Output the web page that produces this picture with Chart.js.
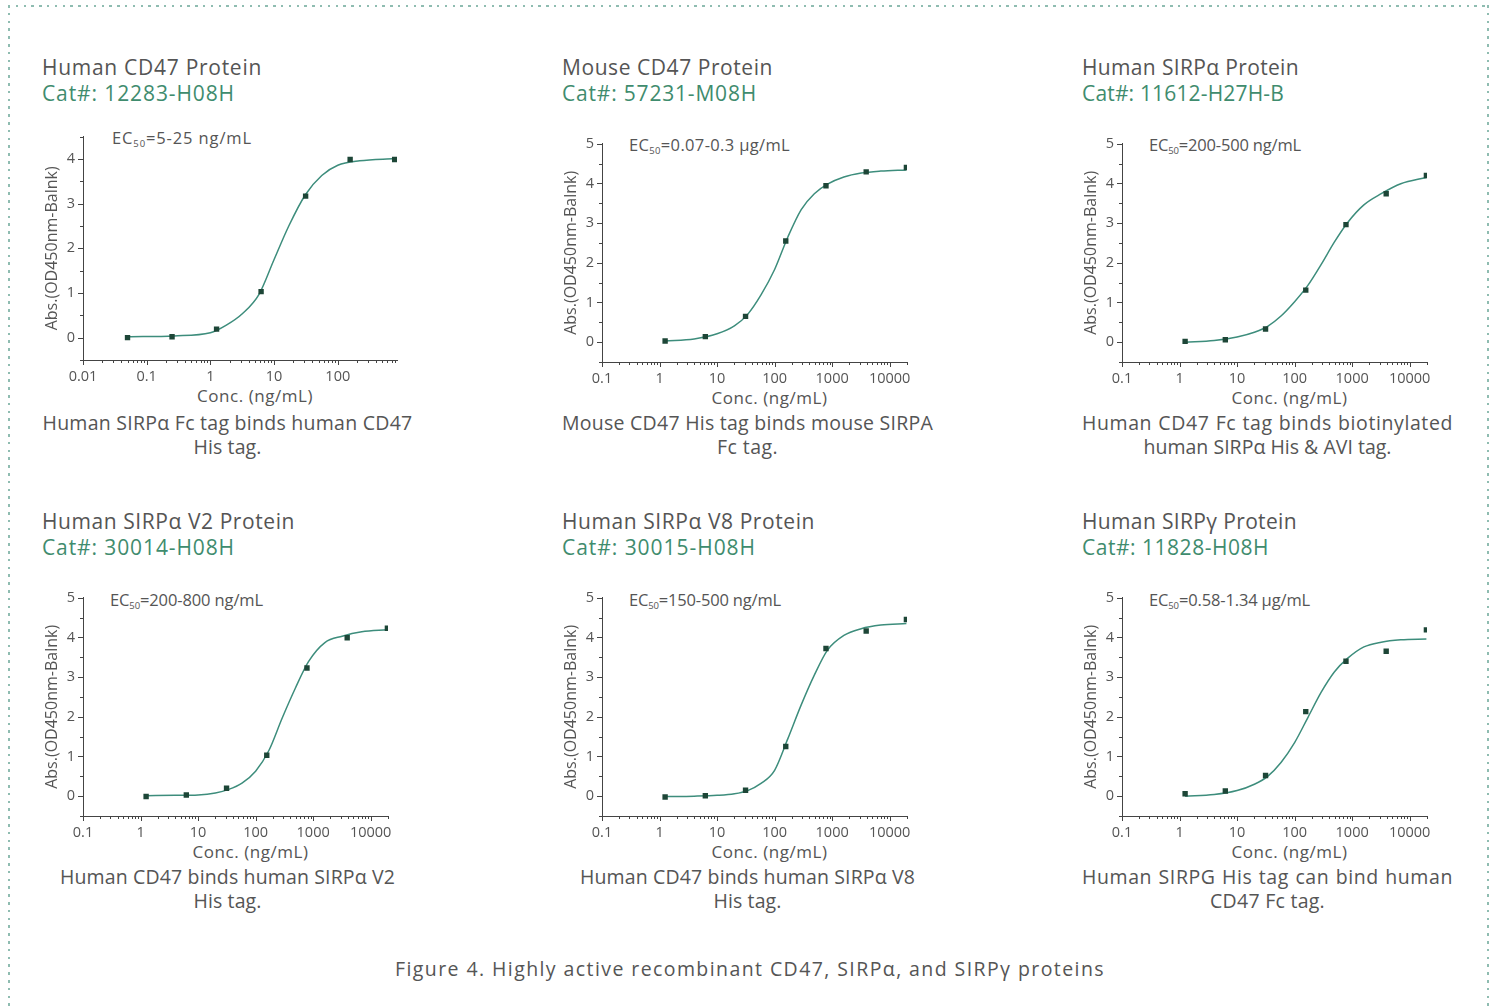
<!DOCTYPE html>
<html>
<head>
<meta charset="utf-8">
<script src="https://cdn.jsdelivr.net/npm/chart.js@4.4.0/dist/chart.umd.min.js"></script>
<style>
  body { margin: 0; width: 1498px; height: 1006px; overflow: hidden; position: relative; background: #fff;
         font-family: "Open Sans", sans-serif; color: #555; }
  .t { position: absolute; white-space: nowrap; line-height: 24px; }
  .title { font-size: 21px; color: #555; }
  .cat { font-size: 21px; color: #3f8c6e; }
  .cap { font-size: 19.5px; color: #555; transform: translateX(-50%); }
  .ec { font-size: 16.5px; color: #555; }
  .ec sub { font-size: 9.5px; vertical-align: -3px; line-height: 0; }
  .xt { font-size: 17px; color: #555; transform: translateX(-50%); }
  .bd { position: absolute; }
  .bd.h { height: 2px; background: repeating-linear-gradient(90deg, #8fbcb1 0 2.5px, transparent 2.5px 7.8px); }
  .bd.v { width: 2px; background: repeating-linear-gradient(180deg, #8fbcb1 0 2.5px, transparent 2.5px 7.8px); }
</style>
</head>
<body>
<div class="bd h" style="left:8px;top:5px;width:1481px"></div>
<div class="bd v" style="left:8px;top:5px;height:1001px"></div>
<div class="bd v" style="left:1487px;top:5px;height:1001px"></div>
<div class="t cap" id="figcap" style="left:750px;top:957px" data-w="710">Figure 4. Highly active recombinant CD47, SIRPα, and SIRPγ proteins</div>
<script>
// concentrations (ng/mL) of the measured points
const pointConcA = [0.05, 0.25, 1.25, 6.25, 31.25, 156.25, 781.25];
const pointConcB = [1.25, 6.25, 31.25, 156.25, 781.25, 3906.25, 19531.25];

// measured absorbance
const humanCD47Abs  = [0.00, 0.02, 0.19, 1.03, 3.17, 3.99, 3.99];
const mouseCD47Abs  = [0.03, 0.14, 0.65, 2.55, 3.94, 4.29, 4.40];
const humanSIRPaAbs = [0.02, 0.06, 0.33, 1.31, 2.96, 3.74, 4.20];
const sirpaV2Abs    = [-0.01, 0.03, 0.20, 1.03, 3.23, 3.99, 4.23];
const sirpaV8Abs    = [-0.02, 0.01, 0.15, 1.25, 3.72, 4.16, 4.45];
const sirpgAbs      = [0.06, 0.13, 0.52, 2.13, 3.40, 3.65, 4.19];

// fitted curves
const fitConcA = [0.05, 0.27, 1, 1.78, 3.2, 5.8, 10, 17, 31, 56, 100, 220, 781.25];
const humanCD47Fit = [0.02, 0.04, 0.11, 0.28, 0.54, 0.97, 1.75, 2.5, 3.2, 3.63, 3.86, 3.96, 4.01];
const fitConcB = [1.25, 4, 10, 20, 34, 58, 100, 170, 290, 490, 830, 1600, 3200, 7000, 19531.25];
const mouseCD47Fit  = [0.03, 0.08, 0.21, 0.41, 0.70, 1.19, 1.83, 2.65, 3.34, 3.74, 3.98, 4.16, 4.26, 4.31, 4.34];
const humanSIRPaFit = [0.00, 0.04, 0.13, 0.25, 0.40, 0.66, 1.02, 1.43, 1.96, 2.52, 3.01, 3.46, 3.74, 3.99, 4.15];
const sirpaV2Fit    = [0.01, 0.02, 0.03, 0.08, 0.17, 0.33, 0.63, 1.15, 1.97, 2.72, 3.39, 3.87, 4.03, 4.14, 4.19];
const sirpaV8Fit    = [-0.01, 0.00, 0.02, 0.06, 0.14, 0.32, 0.65, 1.45, 2.30, 3.05, 3.68, 4.05, 4.22, 4.31, 4.35];
const sirpgFit      = [0.00, 0.04, 0.14, 0.30, 0.50, 0.85, 1.35, 1.98, 2.62, 3.13, 3.47, 3.76, 3.88, 3.94, 3.96];

const panelTitles = ['Human CD47 Protein', 'Mouse CD47 Protein', 'Human SIRPα Protein',
                     'Human SIRPα V2 Protein', 'Human SIRPα V8 Protein', 'Human SIRPγ Protein'];
const catalogNumbers = ['Cat#: 12283-H08H', 'Cat#: 57231-M08H', 'Cat#: 11612-H27H-B',
                        'Cat#: 30014-H08H', 'Cat#: 30015-H08H', 'Cat#: 11828-H08H'];
const ec50Labels = ['=5-25 ng/mL', '=0.07-0.3 μg/mL', '=200-500 ng/mL',
                    '=200-800 ng/mL', '=150-500 ng/mL', '=0.58-1.34 μg/mL'];
const captionLines = [
  ['Human SIRPα Fc tag binds human CD47', 'His tag.'],
  ['Mouse CD47 His tag binds mouse SIRPA', 'Fc tag.'],
  ['Human CD47 Fc tag binds biotinylated', 'human SIRPα His & AVI tag.'],
  ['Human CD47 binds human SIRPα V2', 'His tag.'],
  ['Human CD47 binds human SIRPα V8', 'His tag.'],
  ['Human SIRPG His tag can bind human', 'CD47 Fc tag.']
];
const xTitle = 'Conc. (ng/mL)';
const yTitle = 'Abs.(OD450nm-Balnk)';

const series = [
  [pointConcA, humanCD47Abs, fitConcA, humanCD47Fit],
  [pointConcB, mouseCD47Abs, fitConcB, mouseCD47Fit],
  [pointConcB, humanSIRPaAbs, fitConcB, humanSIRPaFit],
  [pointConcB, sirpaV2Abs, fitConcB, sirpaV2Fit],
  [pointConcB, sirpaV8Abs, fitConcB, sirpaV8Fit],
  [pointConcB, sirpgAbs, fitConcB, sirpgFit]
];

// layout of each panel (chart area in page pixels)
const panels = [
  {col: 42,   row: 0, L: 83,   T: 130, W: 314, H: 230, xmin: 0.01, xmax: 850,   ymax: 4.5, ex: 112,  ey: 138, tw: 220, cw: 193, w1: 370, w2: 68},
  {col: 562,  row: 0, L: 602,  T: 137, W: 305, H: 225, xmin: 0.1,  xmax: 20000, ymax: 5,   ex: 629,  ey: 145, tw: 211, cw: 195, w1: 371, w2: 61},
  {col: 1082, row: 0, L: 1122, T: 137, W: 305, H: 225, xmin: 0.1,  xmax: 20000, ymax: 5,   ex: 1149, ey: 145, tw: 217, cw: 202, w1: 371, w2: 248, just: true},
  {col: 42,   row: 1, L: 83,   T: 591, W: 305, H: 225, xmin: 0.1,  xmax: 20000, ymax: 5,   ex: 110,  ey: 600, tw: 253, cw: 193, w1: 335, w2: 68},
  {col: 562,  row: 1, L: 602,  T: 591, W: 305, H: 225, xmin: 0.1,  xmax: 20000, ymax: 5,   ex: 629,  ey: 600, tw: 253, cw: 194, w1: 335, w2: 68},
  {col: 1082, row: 1, L: 1122, T: 591, W: 305, H: 225, xmin: 0.1,  xmax: 20000, ymax: 5,   ex: 1149, ey: 600, tw: 215, cw: 187, w1: 371, w2: 115, just: true}
];
const ecWidths = [140, 161, 152, 153, 152, 161];

const textColor = '#555';
const axisColor = '#444';
const curveColor = '#3d8d7c';
const pointColor = '#1d4637';
const fontFamily = '"Open Sans", sans-serif';

function addText(cls, text, left, top, w, extra) {
  const d = document.createElement('div');
  d.className = 't ' + cls;
  d.style.left = left + 'px';
  d.style.top = top + 'px';
  d.textContent = text;
  if (w) d.dataset.w = w;
  if (extra) Object.assign(d.dataset, extra);
  document.body.appendChild(d);
  return d;
}

function logLabel(v) {
  const e = Math.log10(v);
  if (Math.abs(e - Math.round(e)) < 1e-6) return String(Number(v.toPrecision(3)));
  return '';
}

const tickMarks = {
  id: 'tickMarks',
  afterDraw(chart) {
    const ctx = chart.ctx;
    const xs = chart.scales.x, ys = chart.scales.y;
    ctx.save();
    ctx.strokeStyle = axisColor;
    ctx.lineWidth = 1;
    xs.ticks.forEach(t => {
      const m = t.value / Math.pow(10, Math.floor(Math.log10(t.value) + 1e-9));
      if (Math.abs(m - Math.round(m)) > 1e-6) return;
      const major = Math.abs(m - 1) < 1e-6;
      const px = Math.round(xs.getPixelForValue(t.value)) + 0.5;
      ctx.beginPath();
      ctx.moveTo(px, xs.top);
      ctx.lineTo(px, xs.top + (major ? 5 : 3));
      ctx.stroke();
    });
    ys.ticks.forEach(t => {
      const major = Math.abs(t.value - Math.round(t.value)) < 1e-6;
      const py = Math.round(ys.getPixelForValue(t.value)) + 0.5;
      ctx.beginPath();
      ctx.moveTo(ys.right, py);
      ctx.lineTo(ys.right - (major ? 5 : 3), py);
      ctx.stroke();
    });
    ctx.restore();
  }
};

function makeChart(p, s) {
  const cv = document.createElement('canvas');
  const w = 43 + p.W + 8, h = 10 + p.H + 48;
  cv.width = w; cv.height = h;
  cv.style.cssText = 'position:absolute;left:' + (p.L - 43) + 'px;top:' + (p.T - 10) + 'px;width:' + w + 'px;height:' + h + 'px';
  document.body.appendChild(cv);
  const pts = s[0].map((c, i) => ({x: c, y: s[1][i]}));
  const fit = s[2].map((c, i) => ({x: c, y: s[3][i]}));
  return new Chart(cv, {
    type: 'scatter',
    data: {
      datasets: [
        {data: fit, showLine: true, borderColor: curveColor, borderWidth: 1.5, pointRadius: 0,
         cubicInterpolationMode: 'monotone', order: 2},
        {data: pts, pointStyle: 'rect', pointRadius: 3.8, backgroundColor: pointColor,
         borderColor: pointColor, borderWidth: 0, order: 1}
      ]
    },
    options: {
      responsive: false,
      animation: false,
      devicePixelRatio: 1,
      layout: {padding: {top: 10, right: 8, left: 0, bottom: 0}},
      plugins: {legend: {display: false}, tooltip: {enabled: false}},
      scales: {
        x: {
          type: 'logarithmic', min: p.xmin, max: p.xmax,
          grid: {display: false, drawTicks: false},
          border: {display: true, color: axisColor, width: 1},
          ticks: {autoSkip: false, maxRotation: 0, padding: 8, color: textColor,
                  font: {family: fontFamily, size: 14.5}, callback: logLabel},
          afterFit: sc => { sc.height = 48; }
        },
        y: {
          min: -0.5, max: p.ymax,
          grid: {display: false, drawTicks: false},
          border: {display: true, color: axisColor, width: 1},
          ticks: {autoSkip: false, stepSize: 0.5, padding: 8, color: textColor, font: {family: fontFamily, size: 14.5},
                  callback: v => (Math.abs(v - Math.round(v)) < 1e-6 && v >= 0) ? Math.round(v) : ''},
          title: {display: true, text: yTitle, color: textColor, font: {family: fontFamily, size: 16},
                  padding: {top: 3, bottom: 0}},
          afterFit: sc => { sc.width = 43; }
        }
      }
    },
    plugins: [tickMarks]
  });
}

panels.forEach((p, i) => {
  const y0 = p.row === 0 ? 55 : 509;
  const yc = p.row === 0 ? 411 : 865;
  addText('title', panelTitles[i], p.col, y0, p.tw);
  addText('cat', catalogNumbers[i], p.col, y0 + 26, p.cw);
  const ec = addText('ec', '', p.ex, p.ey - 12, ecWidths[i]);
  ec.innerHTML = 'EC<sub>50</sub>' + ec50Labels[i];
  const cx = p.col + 185.5;
  addText('cap', captionLines[i][0], cx, yc, p.w1, p.just ? {mode: 'word'} : null);
  addText('cap', captionLines[i][1], cx, yc + 24, p.w2);
  addText('xt', xTitle, p.L + p.W / 2 + 15, p.T + p.H + 24, 116);
  makeChart(p, series[i]);
});

function fitText() {
  document.querySelectorAll('[data-w]').forEach(el => {
    el.style.letterSpacing = el.dataset.mode === 'word' ? '0.6px' : '0px';
    el.style.wordSpacing = '0px';
    const w = el.getBoundingClientRect().width;
    const target = +el.dataset.w;
    if (el.dataset.mode === 'word') {
      const n = (el.textContent.match(/ /g) || []).length;
      el.style.wordSpacing = ((target - w) / n) + 'px';
    } else {
      el.style.letterSpacing = ((target - w) / el.textContent.length) + 'px';
    }
  });
}
fitText();
if (document.fonts) document.fonts.ready.then(fitText);
</script>
</body>
</html>
